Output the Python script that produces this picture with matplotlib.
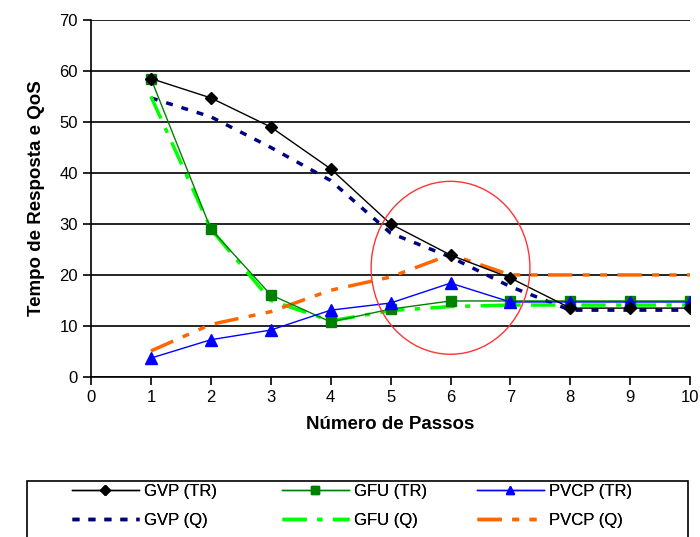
import matplotlib
matplotlib.use("Agg")
import matplotlib.pyplot as plt
from matplotlib.patches import Ellipse, Rectangle

plt.rcParams['font.family'] = ['Liberation Sans', 'DejaVu Sans']

passos = [1, 2, 3, 4, 5, 6, 7, 8, 9, 10]
gvp_tr = [58.5, 54.7, 49.0, 40.8, 30.0, 23.9, 19.4, 13.5, 13.5, 13.5]
gfu_tr = [58.5, 29.0, 16.1, 10.8, 13.3, 14.9, 14.9, 14.9, 14.9, 14.9]
pvcp_tr = [3.7, 7.3, 9.2, 13.1, 14.5, 18.4, 14.7, 14.7, 14.7, 14.7]
gvp_q = [54.7, 51.0, 45.0, 38.5, 28.2, 23.5, 17.7, 13.1, 13.1, 13.1]
gfu_q = [55.0, 29.0, 15.0, 11.0, 13.0, 13.8, 14.1, 14.1, 14.1, 14.1]
pvcp_q = [5.1, 10.3, 12.8, 17.0, 19.6, 24.0, 20.0, 20.0, 20.0, 20.0]

fig = plt.figure(figsize=(7.0, 5.37), dpi=100)
ax = fig.add_axes([0.13, 0.298, 0.856, 0.665])

h1, = ax.plot(passos, gvp_tr, color='black', lw=1, marker='D', ms=6, label='GVP (TR)', zorder=5)
h2, = ax.plot(passos, gfu_tr, color='#008000', lw=1, marker='s', ms=7, label='GFU (TR)', zorder=4)
h3, = ax.plot(passos, pvcp_tr, color='#0000FF', lw=1, marker='^', ms=8, label='PVCP (TR)', zorder=4)
h4, = ax.plot(passos, gvp_q, color='#000080', lw=2.5, linestyle=(0, (2, 2.6)), label='GVP (Q)', zorder=3)
h5, = ax.plot(passos, gfu_q, color='#00FF00', lw=2.5, linestyle=(0, (7, 3, 1.5, 3)), label='GFU (Q)', zorder=3)
h6, = ax.plot(passos, pvcp_q, color='#FF6600', lw=2.5, linestyle=(0, (7, 3, 2, 3, 2, 3)), label='PVCP (Q)', zorder=3)

ax.add_patch(Ellipse((6.0, 21.4), 2.65, 33.9, fill=False, edgecolor='#FF3333', lw=1, zorder=6))

ax.set_xlim(0, 10)
ax.set_ylim(0, 70)
ax.set_xticks(range(0, 11))
ax.set_yticks(range(0, 71, 10))
ax.yaxis.grid(True, color='black', lw=1.2)
ax.set_axisbelow(True)
for s in ['top', 'right']:
    ax.spines[s].set_visible(False)
ax.spines['left'].set_linewidth(1.2)
ax.spines['bottom'].set_linewidth(1.2)
ax.tick_params(axis='both', labelsize=12, direction='out', length=6, width=1.2)
ax.set_xlabel('Número de Passos', fontsize=13.5, fontweight='bold', labelpad=8)
ax.set_ylabel('Tempo de Resposta e QoS', fontsize=13.5, fontweight='bold', labelpad=10)

# legend frame
fig.add_artist(Rectangle((27 / 700, -0.02), 661 / 700, 0.02 + 1 - 481 / 537,
                         transform=fig.transFigure, fill=False, edgecolor='black', lw=1.2))

cols = [((h1, h4), ('GVP (TR)', 'GVP (Q)'), 72),
        ((h2, h5), ('GFU (TR)', 'GFU (Q)'), 282),
        ((h3, h6), ('PVCP (TR)', 'PVCP (Q)'), 477)]
for handles, labels, xpx in cols:
    leg = fig.legend(list(handles), list(labels), loc='upper left',
                     bbox_to_anchor=(xpx / 700, 1 - 484 / 537), fontsize=12,
                     frameon=False, handlelength=4.0, borderpad=0, borderaxespad=0,
                     labelspacing=0.85, handletextpad=0.3)
    for h in leg.legend_handles:
        try:
            h.set_markersize(5.5)
        except Exception:
            pass
    fig.add_artist(leg)

fig.savefig('out.png', dpi=100)
